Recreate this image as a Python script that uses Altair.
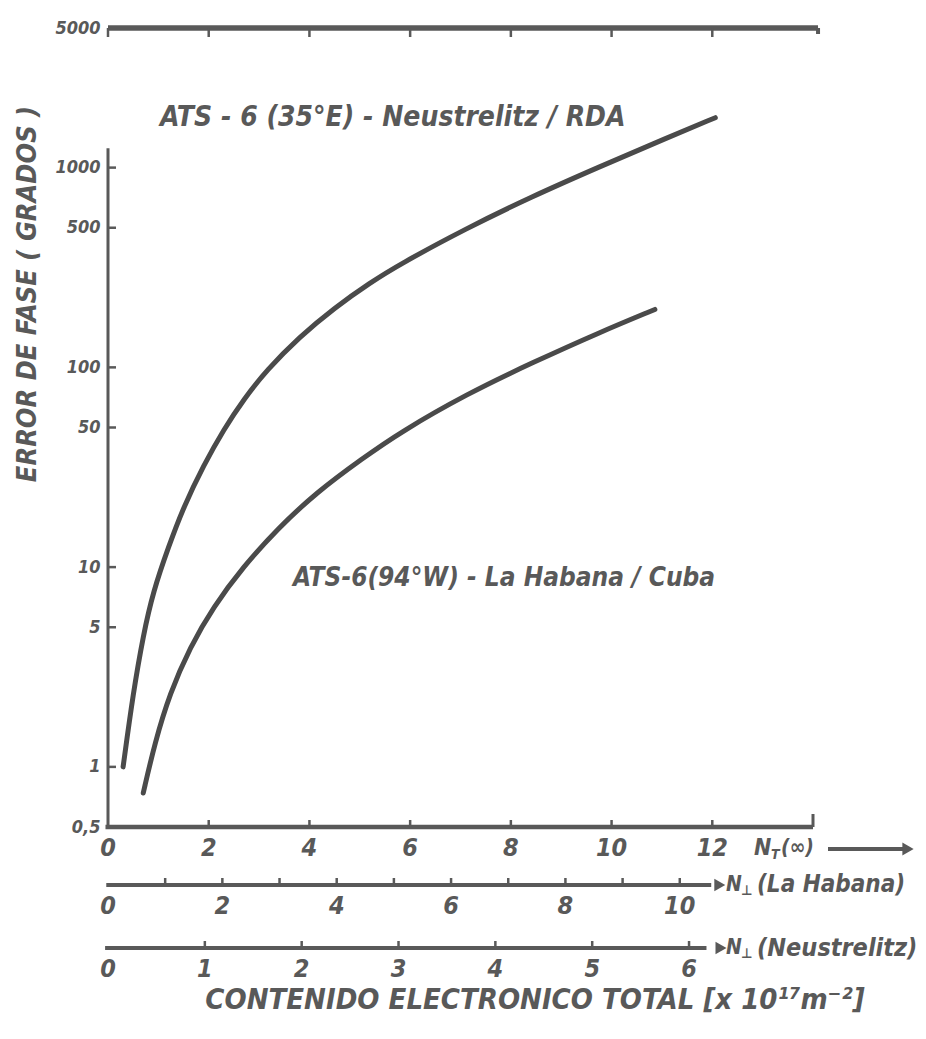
import altair as alt
import pandas as pd

# ---- data ----
nt_upper = [0.30, 0.50, 0.70, 0.90, 1.20, 1.50, 1.90, 2.30, 2.70, 3.15, 3.80, 4.50, 5.20, 5.80, 7.10, 8.40, 9.75, 11.10, 12.06]
err_upper = [1.00, 2.34, 4.57, 7.59, 12.6, 20.0, 32.4, 49.0, 69.5, 96.8, 142, 199, 265, 329, 494, 713, 1007, 1409, 1778]
nt_lower = [0.70, 0.93, 1.23, 1.63, 2.09, 2.68, 3.36, 4.15, 5.06, 5.80, 7.12, 8.44, 9.77, 10.86]
err_lower = [0.74, 1.32, 2.34, 3.98, 6.31, 10.0, 15.5, 23.8, 35.1, 47.3, 73.5, 106, 150, 195]

y_label_values = [0.5, 1, 5, 10, 50, 100, 500, 1000, 5000]
y_tick_values = [1, 5, 10, 50, 100, 500, 1000]
nt_tick_values = [2, 4, 6, 8, 10, 12]
nt_label_values = [0, 2, 4, 6, 8, 10, 12]
top_tick_values = [0, 2, 4, 6, 8, 10, 12]
hab_tick_values = [1, 2, 3, 4, 5, 6, 7, 8, 9, 10]
hab_label_values = [0, 2, 4, 6, 8, 10]
neu_tick_values = [1, 2, 3, 4, 5, 6]
neu_label_values = [0, 1, 2, 3, 4, 5, 6]

NT_MAX = 14.0          # N_T units across the plot width
HAB_MAX = 12.33        # N_perp (La Habana) units across the same width
NEU_MAX = 7.28         # N_perp (Neustrelitz) units across the same width
Y_MIN, Y_MAX = 0.5, 5000
Y_AXIS_TOP = 1250
TOP_LINE_END = 14.1
HAB_ARROW = 10.7
NEU_ARROW = 6.33

W, H = 705, 799
INK = "#595959"
FONT = "DejaVu Sans Condensed, DejaVu Sans"

curves = pd.concat([
    pd.DataFrame({"nt": nt_upper, "err": err_upper, "serie": "Neustrelitz"}),
    pd.DataFrame({"nt": nt_lower, "err": err_lower, "serie": "La Habana"}),
])

xs = alt.Scale(domain=[0, NT_MAX], nice=False, zero=False)
ys = alt.Scale(type="log", domain=[Y_MIN, Y_MAX], nice=False)
one = pd.DataFrame({"a": [0]})


def txt(**kw):
    base = dict(font=FONT, fontStyle="italic", fontWeight="bold", color=INK)
    base.update(kw)
    return alt.Chart(one).mark_text(**base)


def xq(field):
    return alt.X(f"{field}:Q", scale=xs, axis=None)


curve_layer = alt.Chart(curves).mark_line(
    interpolate="basis", strokeWidth=5, strokeCap="round", color="#4a4a4a"
).encode(
    x=xq("nt"),
    y=alt.Y("err:Q", scale=ys, axis=alt.Axis(
        values=y_label_values, format="~g",
        labelExpr="replace(datum.label, '.', ',')",
        ticks=False, domain=False, grid=False, title=None,
        labelFont=FONT, labelFontStyle="italic", labelFontWeight="bold",
        labelFontSize=18, labelColor=INK, labelPadding=8,
    )),
    detail="serie:N",
)

y_axis_line = alt.Chart(pd.DataFrame({"a": [Y_AXIS_TOP], "b": [Y_MIN]})).mark_rule(strokeWidth=3, color=INK).encode(
    x=alt.value(0), y=alt.Y("a:Q", scale=ys), y2="b:Q"
)
y_ticks = alt.Chart(pd.DataFrame({"v": y_tick_values})).mark_rule(strokeWidth=2.5, color=INK).encode(
    x=alt.value(0), x2=alt.value(8), y=alt.Y("v:Q", scale=ys)
)

top_line = alt.Chart(pd.DataFrame({"a": [0], "b": [TOP_LINE_END]})).mark_rule(strokeWidth=5.5, color=INK).encode(
    x=xq("a"), x2="b:Q", y=alt.value(0)
)
top_ticks = alt.Chart(pd.DataFrame({"v": top_tick_values})).mark_rule(strokeWidth=2.5, color=INK).encode(
    x=xq("v"), y=alt.value(0), y2=alt.value(9)
)
top_end = alt.Chart(pd.DataFrame({"v": [TOP_LINE_END]})).mark_rule(strokeWidth=4, color=INK).encode(
    x=xq("v"), y=alt.value(0), y2=alt.value(6)
)

bot_line = alt.Chart(pd.DataFrame({"a": [-0.05], "b": [NT_MAX]})).mark_rule(strokeWidth=4.5, color=INK).encode(
    x=xq("a"), x2="b:Q", y=alt.value(H)
)
bot_ticks = alt.Chart(pd.DataFrame({"v": nt_tick_values})).mark_rule(strokeWidth=2.5, color=INK).encode(
    x=xq("v"), y=alt.value(H - 7), y2=alt.value(H)
)
bot_end = alt.Chart(pd.DataFrame({"v": [NT_MAX]})).mark_rule(strokeWidth=3, color=INK).encode(
    x=xq("v"), y=alt.value(H - 13), y2=alt.value(H)
)
bot_labels = alt.Chart(pd.DataFrame({"v": nt_label_values})).mark_text(
    font=FONT, fontStyle="italic", fontWeight="bold", fontSize=25, color=INK, baseline="middle"
).encode(x=xq("v"), y=alt.value(H + 21), text=alt.Text("v:Q"))

nt_N = txt(fontSize=23, align="left", baseline="middle").encode(x=alt.value(646), y=alt.value(H + 21), text=alt.value("N"))
nt_T = txt(fontSize=14, align="left", baseline="middle").encode(x=alt.value(663), y=alt.value(H + 28), text=alt.value("T"))
nt_inf = txt(fontSize=21, align="left", baseline="middle").encode(x=alt.value(673), y=alt.value(H + 21), text=alt.value("(∞)"))
nt_arrow = alt.Chart(one).mark_rule(strokeWidth=4, color=INK).encode(
    x=alt.value(720), x2=alt.value(795), y=alt.value(H + 22)
)
nt_head = alt.Chart(one).mark_point(shape="triangle-right", filled=True, size=170, color=INK, opacity=1).encode(
    x=alt.value(800), y=alt.value(H + 22)
)

y_title = txt(fontSize=27, angle=270, align="center", baseline="middle").encode(
    x=alt.value(-80), y=alt.value(266), text=alt.value("ERROR DE FASE ( GRADOS )")
)
lab_up = txt(fontSize=28, align="left", baseline="middle").encode(
    x=alt.value(52), y=alt.value(90), text=alt.value("ATS - 6 (35°E) - Neustrelitz / RDA")
)
lab_lo = txt(fontSize=26, align="left", baseline="middle").encode(
    x=alt.value(185), y=alt.value(550), text=alt.value("ATS-6(94°W) - La Habana / Cuba")
)
x_title = txt(fontSize=29, align="center", baseline="middle").encode(
    x=alt.value(427), y=alt.value(H + 173), text=alt.value("CONTENIDO ELECTRONICO TOTAL [x 10¹⁷m⁻²]")
)


def aux_layers(max_v, tick_vals, label_vals, arrow_at, y0, name, name_size):
    k = NT_MAX / max_v  # converts this axis' units to the shared N_T scale
    line = alt.Chart(pd.DataFrame({"a": [-0.03], "b": [arrow_at - 0.15]})).transform_calculate(
        pa=f"datum.a * {k}", pb=f"datum.b * {k}"
    ).mark_rule(strokeWidth=4, color=INK).encode(x=xq("pa"), x2="pb:Q", y=alt.value(y0))
    ticks = alt.Chart(pd.DataFrame({"v": tick_vals})).transform_calculate(p=f"datum.v * {k}").mark_rule(
        strokeWidth=2.5, color=INK
    ).encode(x=xq("p"), y=alt.value(y0 - 7), y2=alt.value(y0))
    head = alt.Chart(pd.DataFrame({"v": [arrow_at]})).transform_calculate(p=f"datum.v * {k}").mark_point(
        shape="triangle-right", filled=True, size=160, color=INK, opacity=1
    ).encode(x=xq("p"), y=alt.value(y0))
    labels = alt.Chart(pd.DataFrame({"v": label_vals})).transform_calculate(p=f"datum.v * {k}").mark_text(
        font=FONT, fontStyle="italic", fontWeight="bold", fontSize=25, color=INK, baseline="middle"
    ).encode(x=xq("p"), y=alt.value(y0 + 21), text=alt.Text("v:Q"))
    n = txt(fontSize=21, align="left", baseline="middle").encode(x=alt.value(618), y=alt.value(y0), text=alt.value("N"))
    perp = txt(fontSize=14, align="left", baseline="middle").encode(x=alt.value(633), y=alt.value(y0 + 6), text=alt.value("⊥"))
    nm = txt(fontSize=name_size, align="left", baseline="middle").encode(x=alt.value(649), y=alt.value(y0), text=alt.value(name))
    return [line, ticks, head, labels, n, perp, nm]


layers = [
    top_line, top_ticks, top_end, y_axis_line, y_ticks, curve_layer,
    bot_line, bot_ticks, bot_end, bot_labels,
    nt_N, nt_T, nt_inf, nt_arrow, nt_head,
    y_title, lab_up, lab_lo, x_title,
]
layers += aux_layers(HAB_MAX, hab_tick_values, hab_label_values, HAB_ARROW, H + 58, "(La Habana)", 24)
layers += aux_layers(NEU_MAX, neu_tick_values, neu_label_values, NEU_ARROW, H + 121, "(Neustrelitz)", 25)

chart = alt.layer(*layers).properties(
    width=W, height=H,
    autosize=alt.AutoSizeParams(type="none"),
    padding={"left": 108, "top": 28, "right": 113, "bottom": 212},
    background="white",
).configure_view(stroke=None)

chart.save("out.html", embed_options={"renderer": "svg", "actions": False})
